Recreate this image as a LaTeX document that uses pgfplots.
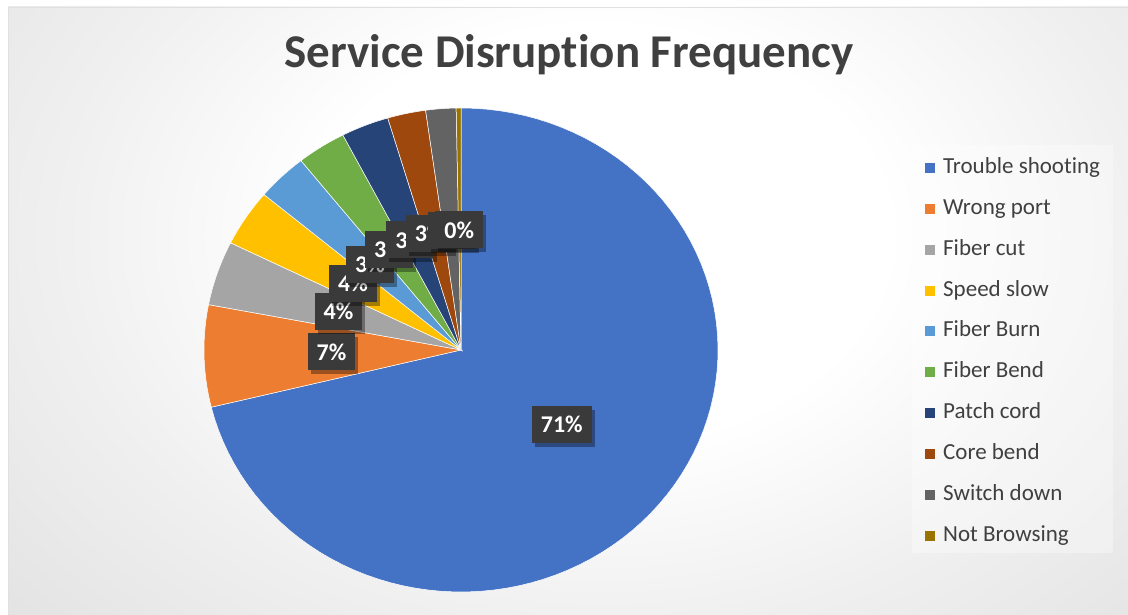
\documentclass[border=0pt]{standalone}
\usepackage{fontspec}
\setmainfont{Carlito}[Ligatures=NoCommon]
\usepackage{pgfplots}
\pgfplotsset{compat=1.18}
\usetikzlibrary{shadows}
\definecolor{cA}{HTML}{4472C4}
\definecolor{cB}{HTML}{ED7D31}
\definecolor{cC}{HTML}{A5A5A5}
\definecolor{cD}{HTML}{FFC000}
\definecolor{cE}{HTML}{5B9BD5}
\definecolor{cF}{HTML}{70AD47}
\definecolor{cG}{HTML}{264478}
\definecolor{cH}{HTML}{9E480E}
\definecolor{cI}{HTML}{636363}
\definecolor{cJ}{HTML}{997300}
\definecolor{txt}{HTML}{404040}
\definecolor{lblfill}{HTML}{3A3A3A}
\pgfdeclareradialshading{bgshade}{\pgfpoint{0bp}{0bp}}{color(0bp)=(white); color(8bp)=(white); color(15bp)=(black!6); color(26.5bp)=(black!14); color(34bp)=(black!21); color(37bp)=(black!23); color(100bp)=(black!23)}
% slice: colour, cumulative share before, share, name
\newcommand\slice[4]{%
  \pgfmathsetmacro\aS{90-3.6*(#2)}%
  \pgfmathsetmacro\aE{90-3.6*(#2+#3)}%
  \edef\doslice{\noexpand\addplot[fill=#1, draw=white, line width=0.5pt, domain=\aE:\aS, samples=90] ({cos(x)},{sin(x)}) -- (axis cs:0,0) -- cycle;}%
  \doslice
  \addlegendentry{#4}}
\tikzset{lbl/.style={fill=lblfill, text=white, font=\fontsize{24}{28}\bfseries\selectfont, inner xsep=9pt, inner ysep=0pt, minimum height=37pt, drop shadow={shadow xshift=3pt, shadow yshift=-4pt, opacity=0.35, fill=black}}}
\begin{document}
\begin{tikzpicture}
\useasboundingbox (0pt,0pt) rectangle (1128pt,615pt);
\fill[white] (0pt,0pt) rectangle (1128pt,615pt);
\fill[black!23] (8pt,0pt) rectangle (1128pt,608pt);
\begin{scope}
\clip (8pt,0pt) rectangle (1128pt,608pt);
\shade[shading=bgshade] (600pt,380pt) ellipse [x radius=900pt, y radius=650pt];
\end{scope}
\draw[black!12, line width=1pt] (8.5pt,0pt) -- (8.5pt,607.5pt) -- (1128pt,607.5pt);
\fill[white, opacity=0.35] (912pt,62pt) rectangle (1113pt,470pt);
\node[anchor=base, text=txt, font=\fontsize{47}{51}\bfseries\selectfont] at (569pt,547pt) {Service Disruption Frequency};
\begin{axis}[
  at={(461pt,265pt)}, anchor=origin,
  scale only axis, width=514pt, height=484pt,
  xmin=-1, xmax=1, ymin=-1, ymax=1,
  hide axis, clip=false,
  legend image code/.code={\fill[#1,draw=none] (0pt,-5pt) rectangle (10pt,5pt);},
  legend style={at={(1.3774,0.918)}, anchor=north west, draw=none, fill=none,
    inner xsep=13pt, inner ysep=8.5pt, row sep=17.9pt,
    font=\fontsize{23}{27}\selectfont, text=txt, cells={anchor=west},
    nodes={inner sep=0pt, text height=17pt, text depth=6pt},
    /tikz/every odd column/.append style={column sep=8pt}},
]
\slice{cA}{0}{71.2}{Trouble shooting}
\slice{cB}{71.2}{6.8}{Wrong port}
\slice{cC}{78.0}{4.3}{Fiber cut}
\slice{cD}{82.3}{3.8}{Speed slow}
\slice{cE}{86.1}{3.2}{Fiber Burn}
\slice{cF}{89.3}{3.1}{Fiber Bend}
\slice{cG}{92.4}{3.0}{Patch cord}
\slice{cH}{95.4}{2.4}{Core bend}
\slice{cI}{97.8}{1.9}{Switch down}
\slice{cJ}{99.7}{0.3}{Not Browsing}
\node[lbl] at (axis cs:0.392,-0.308) {71\%};
\node[lbl] at (axis cs:-0.504,-0.008) {7\%};
\node[lbl] at (axis cs:-0.477,0.159) {4\%};
\node[lbl] at (axis cs:-0.420,0.275) {4\%};
\node[lbl] at (axis cs:-0.354,0.353) {3\%};
\node[lbl] at (axis cs:-0.280,0.417) {3\%};
\node[lbl] at (axis cs:-0.198,0.455) {3\%};
\node[lbl] at (axis cs:-0.122,0.483) {3\%};
\node[lbl] at (axis cs:-0.035,0.492) {2\%};
\node[lbl] at (axis cs:-0.007,0.496) {0\%};
\end{axis}
\end{tikzpicture}
\end{document}
